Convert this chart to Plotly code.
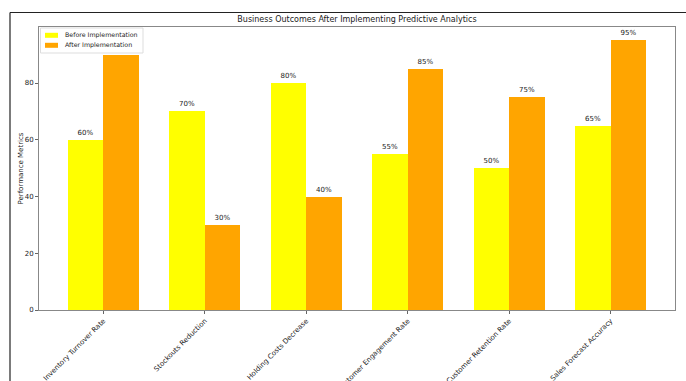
import plotly.graph_objects as go

categories = ["Inventory Turnover Rate", "Stockouts Reduction", "Holding Costs Decrease",
              "Customer Engagement Rate", "Customer Retention Rate", "Sales Forecast Accuracy"]
before_values = [60, 70, 80, 55, 50, 65]
after_values = [90, 30, 40, 85, 75, 95]
before_name = "Before Implementation"
after_name = "After Implementation"
y_ticks = [0, 20, 40, 60, 80]
before_color = "#ffff00"
after_color = "#ffa500"

W, H = 686, 381
L, R, T, B = 39, 675, 27, 310
bw = 0.35
xs = list(range(len(categories)))

fig = go.Figure()
fig.add_trace(go.Bar(
    x=[x - bw / 2 for x in xs], y=before_values, width=bw, name=before_name,
    marker=dict(color=before_color, line=dict(width=0)),
    text=[f"{v}%" for v in before_values], textposition="outside",
    textfont=dict(size=7, color="#222"), cliponaxis=False, showlegend=False,
))
fig.add_trace(go.Bar(
    x=[x + bw / 2 for x in xs], y=after_values, width=bw, name=after_name,
    marker=dict(color=after_color, line=dict(width=0)),
    text=[f"{v}%" for v in after_values], textposition="outside",
    textfont=dict(size=7, color="#222"), cliponaxis=False, showlegend=False,
))

pw = R - L
ph = B - T
def px_x(p):
    return (p - L) / pw
def px_y(p):
    return (B - p) / ph

fig.update_layout(
    width=W, height=H,
    margin=dict(l=L, r=W - R, t=T, b=H - B, autoexpand=False),
    paper_bgcolor="white", plot_bgcolor="white",
    font=dict(family="DejaVu Sans", size=8, color="#222"),
    title=dict(text="Business Outcomes After Implementing Predictive Analytics",
               x=(L + R) / 2 / W, xanchor="center", y=1 - 19 / H, yanchor="middle",
               font=dict(size=8, color="#222")),
    barmode="overlay", bargap=0,
    showlegend=False,
)
fig.update_xaxes(
    range=[-0.635, len(categories) - 1 + 0.635],
    tickmode="array", tickvals=xs, ticktext=categories, tickangle=-45,
    ticks="outside", ticklen=3, tickcolor="#666",
    showline=True, linecolor="#888", linewidth=1, mirror=True,
    showgrid=False, zeroline=False, automargin=False,
    tickfont=dict(size=7),
)
fig.update_yaxes(
    range=[0, 99.75], tickmode="array", tickvals=y_ticks,
    ticks="outside", ticklen=3, tickcolor="#666",
    showline=True, linecolor="#888", linewidth=1, mirror=True,
    showgrid=False, zeroline=False, automargin=False,
    tickfont=dict(size=7),
)
# y-axis title
fig.add_annotation(text="Performance Metrics", xref="paper", yref="paper",
                   x=px_x(20), y=0.5, textangle=-90, showarrow=False,
                   xanchor="center", yanchor="middle", font=dict(size=7, color="#222"))

# legend (manual, matplotlib style)
fig.add_shape(type="rect", xref="paper", yref="paper",
              x0=px_x(40.5), x1=px_x(143), y0=px_y(28), y1=px_y(53),
              line=dict(color="#ddd", width=1), fillcolor="white", layer="above")
for i, (nm, col) in enumerate([(before_name, before_color), (after_name, after_color)]):
    yc = 35.3 + i * 10
    fig.add_shape(type="rect", xref="paper", yref="paper",
                  x0=px_x(45), x1=px_x(58), y0=px_y(yc - 2.5), y1=px_y(yc + 2.5),
                  line=dict(width=0), fillcolor=col, layer="above")
    fig.add_annotation(text=nm, xref="paper", yref="paper", x=px_x(62.5), y=px_y(yc),
                       xanchor="left", yanchor="middle", showarrow=False,
                       font=dict(size=6.3, color="#222"))

# outer frame of the screenshot
fig.add_shape(type="line", xref="paper", yref="paper",
              x0=px_x(10), x1=px_x(W + 5), y0=px_y(12.5), y1=px_y(12.5),
              line=dict(color="#222", width=1.2))
fig.add_shape(type="line", xref="paper", yref="paper",
              x0=px_x(10), x1=px_x(10), y0=px_y(12.5), y1=px_y(H + 5),
              line=dict(color="#222", width=1.2))

fig.write_html("out.html")
